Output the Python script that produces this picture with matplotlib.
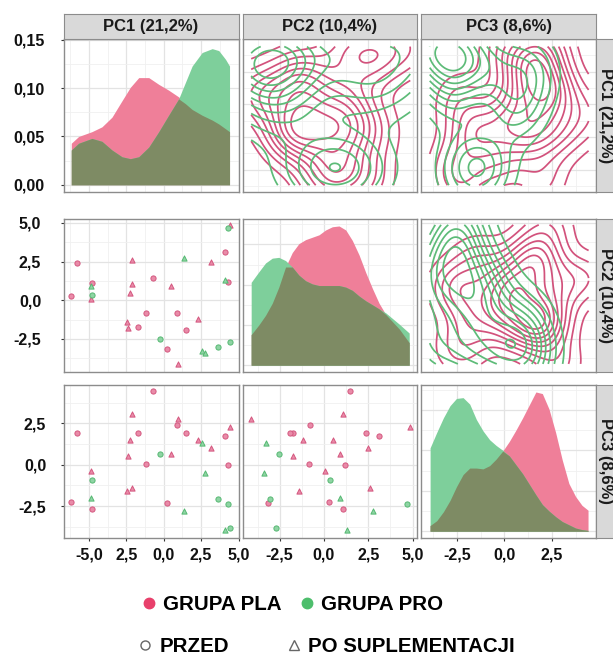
import numpy as np
import matplotlib
matplotlib.use("Agg")
import matplotlib.pyplot as plt
from matplotlib.ticker import MultipleLocator
from matplotlib.lines import Line2D

plt.rcParams['font.family'] = ['Liberation Sans', 'DejaVu Sans']
plt.rcParams['font.weight'] = 'bold'

# --- data: PCA scores (PC1, PC2, PC3) per subject ---
pla_przed = [(-0.70, 1.47, 4.44), (0.90, -0.80, 2.39), (-5.80, 2.38, 1.93),
             (-1.70, -1.75, 1.90), (1.47, -1.90, 1.95), (4.12, 3.12, 1.73),
             (-1.17, -0.84, 0.02), (4.30, 1.17, -0.01), (-6.18, 0.28, -2.26),
             (-4.78, 1.10, -2.68), (0.25, -3.14, -2.32)]
pla_po = [(-2.10, 1.05, 3.08), (0.96, -4.11, 2.78), (4.42, 4.87, 2.30),
          (-2.27, 0.50, 1.48), (2.31, -1.20, 1.51), (3.18, 2.50, 1.04),
          (0.52, 0.93, 0.66), (-2.38, -1.77, 0.52), (-4.85, 0.08, -0.40),
          (-2.43, -1.39, -1.57), (-2.11, 2.62, -1.41)]
pro_przed = [(-0.22, -2.52, 0.67), (-4.82, 0.35, -0.93), (3.62, -3.03, -2.06),
             (4.29, 4.67, -2.39), (4.42, -2.72, -3.84)]
pro_po = [(2.55, -3.28, 1.33), (2.73, -3.40, -0.52), (-4.88, 0.93, -2.03),
          (1.34, 2.76, -2.78), (4.10, 1.30, -3.94)]

var_names = ['PC1 (21,2%)', 'PC2 (10,4%)', 'PC3 (8,6%)']

# density curves
dens1_x = [-6.18, -5.69, -4.80, -4.13, -3.46, -2.79, -2.23, -1.67, -1.00, -0.33,
           0.33, 1.00, 1.45, 1.90, 2.57, 3.24, 3.68, 4.13, 4.40]
dens1_pla = [0.043, 0.050, 0.055, 0.060, 0.070, 0.087, 0.101, 0.111, 0.111, 0.104,
             0.098, 0.091, 0.084, 0.078, 0.072, 0.067, 0.063, 0.058, 0.055]
dens1_pro = [0.036, 0.043, 0.048, 0.045, 0.036, 0.029, 0.027, 0.029, 0.039, 0.055,
             0.072, 0.089, 0.106, 0.123, 0.137, 0.141, 0.139, 0.130, 0.123]

dens2_x = [-4.11, -3.68, -3.30, -2.92, -2.55, -2.17, -1.79, -1.42, -1.04, -0.66,
           -0.28, 0.09, 0.47, 0.85, 1.23, 1.60, 1.98, 2.36, 2.74, 3.11,
           3.49, 3.87, 4.25, 4.81]
dens2_pla = [0.038, 0.050, 0.062, 0.077, 0.097, 0.122, 0.140, 0.151, 0.156, 0.159,
             0.162, 0.168, 0.172, 0.173, 0.168, 0.155, 0.137, 0.115, 0.095, 0.077,
             0.063, 0.054, 0.045, 0.028]
dens2_pro = [0.103, 0.116, 0.127, 0.133, 0.134, 0.130, 0.122, 0.112, 0.105, 0.101,
             0.099, 0.099, 0.099, 0.099, 0.097, 0.093, 0.086, 0.080, 0.075, 0.070,
             0.065, 0.058, 0.051, 0.040]

dens3_x = [-3.92, -3.57, -3.22, -2.87, -2.53, -2.18, -1.83, -1.48, -1.13, -0.78,
           -0.44, -0.09, 0.26, 0.61, 0.96, 1.31, 1.66, 2.00, 2.35, 2.70,
           3.05, 3.40, 3.75, 4.09, 4.41]
dens3_pla = [0.007, 0.013, 0.024, 0.038, 0.055, 0.070, 0.078, 0.078, 0.077, 0.081,
             0.089, 0.099, 0.111, 0.125, 0.140, 0.156, 0.172, 0.170, 0.151, 0.122,
             0.088, 0.059, 0.043, 0.032, 0.026]
dens3_pro = [0.103, 0.122, 0.140, 0.155, 0.164, 0.165, 0.157, 0.138, 0.124, 0.113,
             0.106, 0.100, 0.093, 0.082, 0.071, 0.058, 0.045, 0.033, 0.025, 0.018,
             0.012, 0.008, 0.004, 0.002, 0.001]

dens_x = [dens1_x, dens2_x, dens3_x]
dens_pla = [dens1_pla, dens2_pla, dens3_pla]
dens_pro = [dens1_pro, dens2_pro, dens3_pro]

lims = [(-6.7, 5.0), (-4.6, 5.25), (-4.4, 4.83)]
xlabels = [[-5, -2.5, 0, 2.5, 5], [-2.5, 0, 2.5, 5], [-2.5, 0, 2.5]]
xlabel_txt = [['-5,0', '2,5', '0,0', '2,5', '5,0'],
              ['-2,5', '0,0', '2,5', '5,0'],
              ['-2,5', '0,0', '2,5']]
ylabels = [[0.0, 0.05, 0.10, 0.15], [-2.5, 0, 2.5, 5], [-2.5, 0, 2.5]]
ylabel_txt = [['0,00', '0,05', '0,10', '0,15'],
              ['-2,5', '0,0', '2,5', '5,0'],
              ['-2,5', '0,0', '2,5']]

PINK_FILL = '#EF7F99'
GREEN_FILL = '#7ECF9B'
OLIVE = '#7E8B64'
PINK_LINE = '#D2527C'
GREEN_LINE = '#5DBB78'

pla = np.array(pla_przed + pla_po)
pro = np.array(pro_przed + pro_po)
alldata = np.vstack([pla, pro])


def kde2d(x, y, xg, yg, shrink=1.0):
    n = len(x)
    def bw(v):
        iqr = np.subtract(*np.percentile(v, [75, 25]))
        return 1.06 * min(np.std(v, ddof=1), iqr / 1.34) * n ** (-0.2) * shrink
    hx, hy = bw(x), bw(y)
    X, Y = np.meshgrid(xg, yg)
    Z = np.zeros_like(X)
    for xi, yi in zip(x, y):
        Z += np.exp(-0.5 * ((X - xi) / hx) ** 2 - 0.5 * ((Y - yi) / hy) ** 2)
    return X, Y, Z / (2 * np.pi * hx * hy * n)


W, H = 613, 655
fig = plt.figure(figsize=(W / 100, H / 100), dpi=100)
cols_px = [(63.5, 238.5), (242.5, 417), (421, 596)]
rows_px = [(39, 192), (219, 371.5), (385, 537.5)]
ypad = [11, 13.5, 10]


def px_axes(x0, x1, y0, y1):
    return fig.add_axes([x0 / W, 1 - y1 / H, (x1 - x0) / W, (y1 - y0) / H])


for i in range(3):
    for j in range(3):
        ax = px_axes(cols_px[j][0], cols_px[j][1], rows_px[i][0], rows_px[i][1])
        ax.set_axisbelow(True)
        ax.set_xlim(lims[j])
        ax.xaxis.set_major_locator(MultipleLocator(2.5))
        ax.xaxis.set_minor_locator(MultipleLocator(1.25))
        if i == j:
            x = np.array(dens_x[i])
            a = np.array(dens_pla[i])
            b = np.array(dens_pro[i])
            ax.fill_between(x, 0, a, color=PINK_FILL, lw=0)
            ax.fill_between(x, 0, b, color=GREEN_FILL, lw=0)
            ax.fill_between(x, 0, np.minimum(a, b), color=OLIVE, lw=0)
            top = max(a.max(), b.max())
            if i == 0:
                ax.set_ylim(-0.0075, 0.151)
            else:
                ax.set_ylim(-0.045 * top, 1.05 * top)
            ax.yaxis.set_major_locator(MultipleLocator(0.05))
            ax.yaxis.set_minor_locator(MultipleLocator(0.025))
        else:
            ax.set_ylim(lims[i])
            ax.yaxis.set_major_locator(MultipleLocator(2.5))
            ax.yaxis.set_minor_locator(MultipleLocator(1.25))
            if i > j:
                for pts, marker, fc, ec in [
                        (pla_przed, 'o', '#E98BA8', '#D4577F'),
                        (pla_po, '^', '#E98BA8', '#D4577F'),
                        (pro_przed, 'o', '#8FD4A4', '#55B872'),
                        (pro_po, '^', '#8FD4A4', '#55B872')]:
                    p = np.array(pts)
                    ax.scatter(p[:, j], p[:, i], s=14, marker=marker,
                               facecolor=fc, edgecolor=ec, linewidths=0.7, zorder=3)
            else:
                xg = np.linspace(alldata[:, j].min(), alldata[:, j].max(), 120)
                yg = np.linspace(alldata[:, i].min(), alldata[:, i].max(), 120)
                for grp, col in [(pla, PINK_LINE), (pro, GREEN_LINE)]:
                    X, Y, Z = kde2d(grp[:, j], grp[:, i], xg, yg)
                    levels = np.linspace(0, Z.max(), 11)[1:-1]
                    ax.contour(X, Y, Z, levels=levels, colors=col, linewidths=1.25)

        ax.grid(which='major', color='#E3E3E3', lw=0.9)
        ax.grid(which='minor', color='#F0F0F0', lw=0.6)
        for s in ax.spines.values():
            s.set_color('#8C8C8C')
            s.set_linewidth(1.0)
        ax.tick_params(which='minor', length=0)
        ax.tick_params(which='major', length=0, labelleft=False, labelbottom=False)
        if j == 0:
            ax.set_yticks(ylabels[i], ylabel_txt[i])
            ax.tick_params(axis='y', which='major', length=2.5, width=0.8,
                           color='#333333', labelleft=True, labelsize=11.5,
                           pad=ypad[i], labelcolor='#111111')
        if i == 2:
            ax.set_xticks(xlabels[j], xlabel_txt[j])
            ax.tick_params(axis='x', which='major', length=2.5, width=0.8,
                           color='#333333', labelbottom=True, labelsize=11.5,
                           pad=5, labelcolor='#111111')
        for lab in ax.get_xticklabels() + ax.get_yticklabels():
            lab.set_fontweight('bold')

# strips
for j in range(3):
    sax = px_axes(cols_px[j][0], cols_px[j][1], 14, 39)
    sax.set_facecolor('#D9D9D9')
    sax.set_xticks([])
    sax.set_yticks([])
    for s in sax.spines.values():
        s.set_color('#8C8C8C')
    sax.text(0.5, 0.5, var_names[j], ha='center', va='center', fontsize=12,
             fontweight='bold', color='#1A1A1A', transform=sax.transAxes)
for i in range(3):
    sax = px_axes(596, 616, rows_px[i][0], rows_px[i][1])
    sax.set_facecolor('#D9D9D9')
    sax.set_xticks([])
    sax.set_yticks([])
    for s in sax.spines.values():
        s.set_color('#8C8C8C')
    sax.text(0.45, 0.5, var_names[i], ha='center', va='center', fontsize=12,
             fontweight='bold', color='#1A1A1A', rotation=-90,
             transform=sax.transAxes)

# legends
h1 = [Line2D([], [], ls='', marker='o', markersize=7.5, color='#E8406B'),
      Line2D([], [], ls='', marker='o', markersize=7.5, color='#4DBE6C')]
leg1 = fig.legend(h1, ['GRUPA PLA', 'GRUPA PRO'], ncol=2, loc='center left',
                  bbox_to_anchor=(143.5 / W, 1 - 605 / H), frameon=False,
                  borderpad=0, borderaxespad=0, handlelength=0.55,
                  handletextpad=0.4, columnspacing=0.95,
                  prop={'size': 14.8, 'weight': 'bold'})
h2 = [Line2D([], [], ls='', marker='o', markersize=6.5, markerfacecolor='none',
             markeredgecolor='#666666', markeredgewidth=1.0),
      Line2D([], [], ls='', marker='^', markersize=7, markerfacecolor='none',
             markeredgecolor='#666666', markeredgewidth=1.0)]
leg2 = fig.legend(h2, ['PRZED', 'PO SUPLEMENTACJI'], ncol=2, loc='center left',
                  bbox_to_anchor=(139.5 / W, 1 - 647 / H), frameon=False,
                  borderpad=0, borderaxespad=0, handlelength=0.55,
                  handletextpad=0.42, columnspacing=2.9,
                  prop={'size': 14.8, 'weight': 'bold'})

fig.savefig('out.png', dpi=100)
